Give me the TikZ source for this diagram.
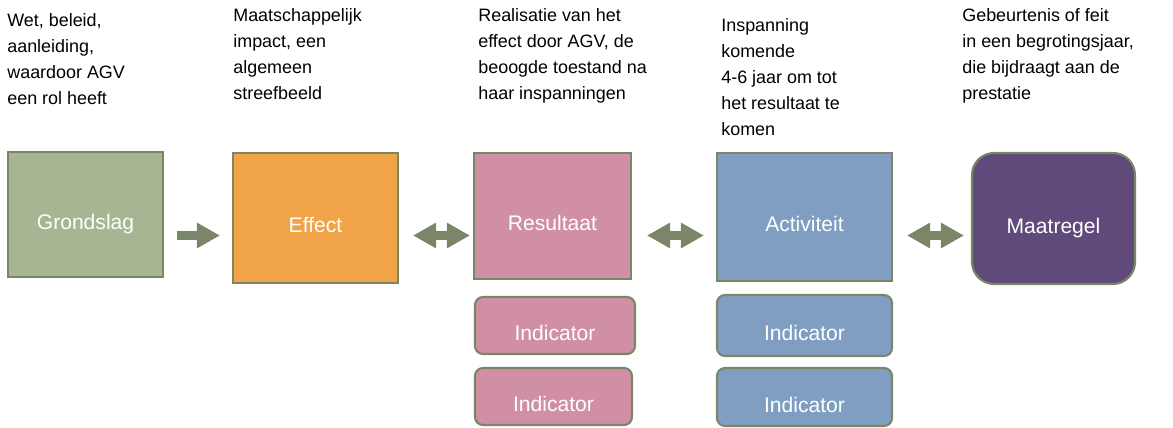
\documentclass[tikz,border=0pt]{standalone}
\usepackage{fontspec}
\setmainfont{Liberation Sans}
\usetikzlibrary{arrows.meta}

\definecolor{edgegreen}{HTML}{7B8668}
\definecolor{sagefill}{HTML}{A6B592}
\definecolor{orangefill}{HTML}{F1A447}
\definecolor{rosefill}{HTML}{D08FA5}
\definecolor{bluefill}{HTML}{7F9EC2}
\definecolor{purplefill}{HTML}{604A7B}

\begin{document}
\begin{tikzpicture}[scale=1,
		box/.style={draw=edgegreen, line width=1.2pt, text=white, inner sep=0pt,
			text height=0.7cm, text depth=0.1cm,
			font=\fontsize{12}{14}\selectfont},
		indbox/.style={box, rounded corners=0.16cm},
		note/.style={anchor=base west, align=left, inner sep=0pt,
			font=\fontsize{10.2}{14.8}\selectfont},
		fatarrow/.style={edgegreen, line width=0.17cm, -{Triangle[length=0.46cm,width=0.48cm]}},
		twoarrow/.style={edgegreen, line width=0.17cm,
			{Triangle[length=0.46cm,width=0.48cm]}-{Triangle[length=0.46cm,width=0.48cm]}}]
		
		\useasboundingbox (0,0) rectangle (23.46,8.54);
		
		
		% uitleg boven de blokken (anker op de laatste regel)
		\node[note] (wet) at (0.14,6.44) {Wet, beleid,\\aanleiding,\\waardoor AGV\\een rol heeft};
		\node[note] (maat) at (4.66,6.54) {Maatschappelijk\\impact, een\\algemeen\\streefbeeld};
		\node[note] (real) at (9.56,6.54) {Realisatie van het\\effect door AGV, de\\beoogde toestand na\\haar inspanningen};
		\node[note] (insp) at (14.42,5.82) {Inspanning\\komende\\4-6 jaar om tot\\het resultaat te\\komen};
		\node[note] (gebeur) at (19.24,6.54) {Gebeurtenis of feit\\in een begrotingsjaar,\\die bijdraagt aan de\\prestatie};
		
		
		% de blokken
		\node[box, fill=sagefill, minimum width=3.1cm, minimum height=2.5cm] (grondslag) at (1.71,4.25) {Grondslag};
		\node[box, fill=orangefill, minimum width=3.3cm, minimum height=2.6cm] (effect) at (6.31,4.18) {Effect};
		\node[box, fill=rosefill, minimum width=3.14cm, minimum height=2.52cm] (resultaat) at (11.05,4.22) {Resultaat};
		\node[box, fill=bluefill, minimum width=3.5cm, minimum height=2.56cm] (activiteit) at (16.09,4.2) {Activiteit};
		\node[box, fill=purplefill, rounded corners=0.44cm, minimum width=3.26cm, minimum height=2.62cm] (maatregel) at (21.07,4.17) {Maatregel};
		
		
		% indicatoren
		\node[indbox, fill=rosefill, minimum width=3.2cm, minimum height=1.14cm] (indres1) at (11.1,2.03) {Indicator};
		\node[indbox, fill=rosefill, minimum width=3.14cm, minimum height=1.14cm] (indres2) at (11.07,0.61) {Indicator};
		\node[indbox, fill=bluefill, minimum width=3.5cm, minimum height=1.22cm] (indact1) at (16.09,2.03) {Indicator};
		\node[indbox, fill=bluefill, minimum width=3.5cm, minimum height=1.16cm] (indact2) at (16.09,0.6) {Indicator};
		
		
		% pijlen
		\coordinate (pijlrij) at (0,3.83);
		\draw[fatarrow, shorten <=0.26cm, shorten >=0.24cm] (grondslag.east |- pijlrij) -- (effect.west |- pijlrij);
		\draw[twoarrow, shorten <=0.28cm, shorten >=0.06cm] (effect.east |- pijlrij) -- (resultaat.west |- pijlrij);
		\draw[twoarrow, shorten <=0.3cm, shorten >=0.24cm] (resultaat.east |- pijlrij) -- (activiteit.west |- pijlrij);
		\draw[twoarrow, shorten <=0.28cm, shorten >=0.14cm] (activiteit.east |- pijlrij) -- (maatregel.west |- pijlrij);
		
		
	\end{tikzpicture}
\end{document}
